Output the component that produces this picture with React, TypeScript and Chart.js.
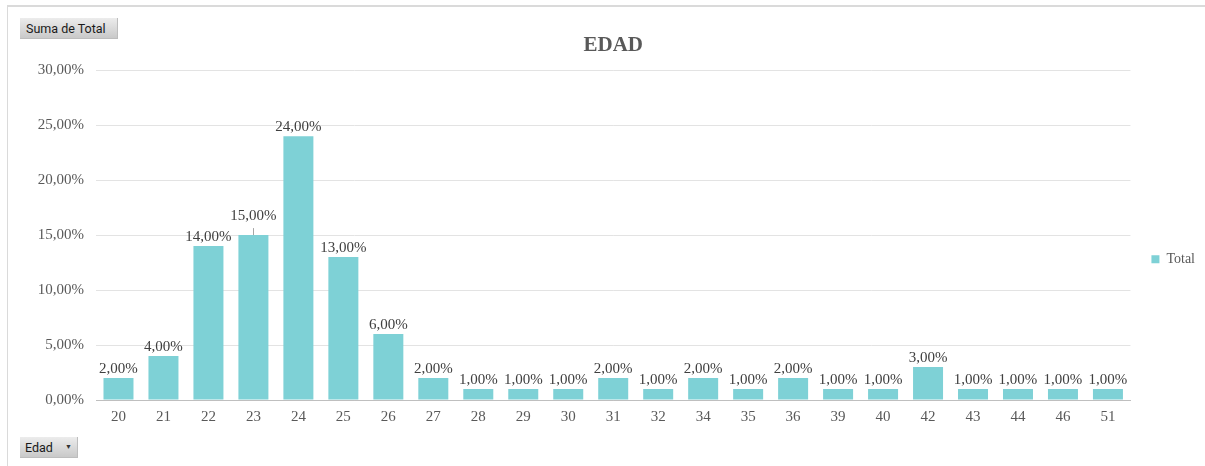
import React, { useEffect, useRef } from "react";
import { Chart, registerables } from "chart.js";

Chart.register(...registerables);

const categories: string[] = [
  "20", "21", "22", "23", "24", "25", "26", "27", "28", "29", "30", "31",
  "32", "34", "35", "36", "39", "40", "42", "43", "44", "46", "51",
];
const totalValues: number[] = [
  2, 4, 14, 15, 24, 13, 6, 2, 1, 1, 1, 2, 1, 2, 1, 2, 1, 1, 3, 1, 1, 1, 1,
];
const yTicks: number[] = [0, 5, 10, 15, 20, 25, 30];
const seriesName = "Total";
const chartTitle = "EDAD";

const BAR_COLOR = "rgb(126,209,214)";
const TEXT_COLOR = "#595959";
const SERIF = "'Liberation Serif', 'Times New Roman', serif";

const fmtPct = (v: number) => v.toFixed(2).replace(".", ",") + "%";

const dataLabelPlugin = {
  id: "dataLabels",
  afterDatasetsDraw(chart: any) {
    const ctx = chart.ctx;
    const meta = chart.getDatasetMeta(0);
    const ds = chart.data.datasets[0];
    ctx.save();
    ctx.font = `15px ${SERIF}`;
    ctx.fillStyle = "#404040";
    ctx.textAlign = "center";
    ctx.textBaseline = "alphabetic";
    let prev: { l: number; r: number; base: number } | null = null;
    meta.data.forEach((bar: any, i: number) => {
      const text = fmtPct(ds.data[i]);
      const w = ctx.measureText(text).width;
      const x = bar.x;
      let base = bar.y - 5;
      const l = x - w / 2;
      const r = x + w / 2;
      let lifted = false;
      if (prev && l < prev.r && Math.abs(base - prev.base) < 14) {
        base = Math.min(base, prev.base - 21);
        lifted = true;
      }
      ctx.fillText(text, x, base);
      if (lifted) {
        ctx.strokeStyle = "#a6a6a6";
        ctx.lineWidth = 1;
        ctx.beginPath();
        ctx.moveTo(Math.round(x) + 0.5, base + 8);
        ctx.lineTo(Math.round(x) + 0.5, bar.y);
        ctx.stroke();
      }
      prev = { l, r, base };
    });
    ctx.restore();
  },
};

function ChartCanvas() {
  const ref = useRef<HTMLCanvasElement | null>(null);
  useEffect(() => {
    if (!ref.current) return;
    const chart = new Chart(ref.current, {
      type: "bar",
      data: {
        labels: categories,
        datasets: [
          {
            label: seriesName,
            data: totalValues,
            backgroundColor: BAR_COLOR,
            borderWidth: 0,
            barPercentage: 0.667,
            categoryPercentage: 1,
          },
        ],
      },
      options: {
        animation: false,
        responsive: false,
        maintainAspectRatio: false,
        layout: { padding: { left: 0, right: 0, top: 0, bottom: 36 } },
        plugins: {
          title: {
            display: true,
            text: chartTitle,
            fullSize: false,
            color: TEXT_COLOR,
            font: { family: SERIF, size: 21, weight: "bold", lineHeight: 1.2 },
            padding: { top: 33, bottom: 12 },
          },
          legend: {
            display: true,
            position: "right",
            align: "center",
            title: {
              display: true,
              text: "",
              font: { size: 12, lineHeight: 1.2 },
              padding: { top: 74, bottom: 0 },
            },
            labels: {
              boxWidth: 8,
              boxHeight: 8,
              padding: 21,
              color: TEXT_COLOR,
              font: { family: SERIF, size: 14 },
            },
          },
          tooltip: { enabled: false },
        },
        scales: {
          x: {
            grid: { display: false, drawTicks: false },
            border: { display: true, color: "#bfbfbf", width: 1 },
            ticks: {
              color: TEXT_COLOR,
              font: { family: SERIF, size: 15 },
              padding: 8,
              maxRotation: 0,
              autoSkip: false,
            },
            afterFit(scale: any) {
              scale.height = 30;
            },
          },
          y: {
            min: 0,
            max: 30,
            afterBuildTicks(scale: any) {
              scale.ticks = yTicks.map((v) => ({ value: v }));
            },
            grid: {
              drawTicks: false,
              color: (c: any) => (c.tick && c.tick.value === 0 ? "#bfbfbf" : "#e3e3e3"),
              lineWidth: 1,
            },
            border: { display: false },
            ticks: {
              color: TEXT_COLOR,
              font: { family: SERIF, size: 15 },
              padding: 12,
              callback: (v: any) => fmtPct(Number(v)),
            },
            afterFit(scale: any) {
              scale.width = 96;
            },
          },
        },
      },
      plugins: [dataLabelPlugin],
    });
    return () => chart.destroy();
  }, []);
  return (
    <canvas
      ref={ref}
      width={1205}
      height={466}
      style={{ position: "absolute", left: 0, top: 0, width: 1205, height: 466 }}
    />
  );
}

const btnStyle: React.CSSProperties = {
  position: "absolute",
  background: "linear-gradient(#ececec, #c9c9c9)",
  borderRight: "1px solid #bdbdbd",
  borderBottom: "1px solid #bdbdbd",
  fontFamily: "Roboto, 'Noto Sans', sans-serif",
  fontSize: 12.5,
  color: "#1a1a1a",
  boxSizing: "border-box",
  display: "flex",
  alignItems: "center",
  whiteSpace: "nowrap",
};

export default function App() {
  useEffect(() => {
    document.body.style.margin = "0";
  }, []);
  return (
    <div
      style={{
        position: "fixed",
        left: 0,
        top: 0,
        width: 1205,
        height: 466,
        background: "#fff",
        overflow: "hidden",
      }}
    >
      <div
        style={{
          position: "absolute",
          left: 7,
          top: 5,
          right: 0,
          bottom: 0,
          borderTop: "2px solid #dadada",
          borderLeft: "1px solid #dadada",
        }}
      />
      <ChartCanvas />
      <div style={{ ...btnStyle, left: 20, top: 18, width: 98, height: 21, paddingLeft: 6 }}>
        Suma de Total
      </div>
      <div style={{ ...btnStyle, left: 20, top: 437, width: 58, height: 21, paddingLeft: 5 }}>
        <span>Edad</span>
        <span style={{ fontSize: 7, marginLeft: 12, color: "#333" }}>▼</span>
      </div>
    </div>
  );
}
